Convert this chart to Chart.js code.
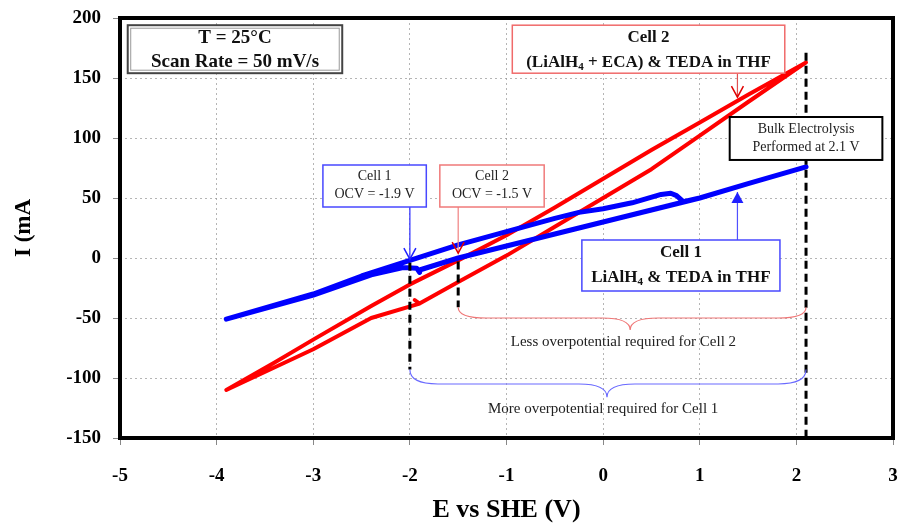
<!DOCTYPE html>
<html>
<head>
<meta charset="utf-8">
<script src="https://cdn.jsdelivr.net/npm/chart.js@4.4.1/dist/chart.umd.min.js"></script>
<style>
  html, body { margin: 0; padding: 0; background: #fff; }
</style>
</head>
<body>
<canvas id="cv" width="898" height="526"></canvas>
<script>
// Cell 1 (LiAlH4 & TEDA in THF) - values in scan order, E (V) / I (mA)
const cell1V = [-1.90, -1.93, -2.07, -2.40, -3.00, -3.90, -3.00, -2.50, -2.00, -1.50, -1.00, -0.50, -0.25, 0.00, 0.30, 0.60, 0.70, 0.76, 0.83, 1.00, 1.50, 2.10, 1.50, 1.00, 0.50, 0.00, -0.50, -1.00, -1.50, -1.90];
const cell1I = [-12, -8.5, -8, -14, -31, -51, -30, -15, -2, 11, 22, 33, 38, 41, 46, 53, 54, 52, 47, 50, 62, 76, 62, 50, 40, 30, 20, 10, 0, -10];

// Cell 2 ((LiAlH4 + ECA) & TEDA in THF)
const cell2V = [-1.95, -1.90, -2.40, -3.00, -3.90, -3.40, -3.00, -2.40, -2.00, -1.50, -1.00, -0.50, 0.00, 0.50, 1.00, 1.50, 2.10, 1.50, 1.00, 0.50, 0.00, -0.50, -1.00, -1.50, -1.90];
const cell2I = [-35, -38, -50, -76, -110, -87, -68, -40, -22, -2, 19, 42, 66, 90, 113, 136, 163, 130, 102, 74, 50, 26, 2, -20, -38];

const xTicks = [-5, -4, -3, -2, -1, 0, 1, 2, 3];
const yTicks = [-150, -100, -50, 0, 50, 100, 150, 200];

const SERIF = '"Liberation Serif", "Times New Roman", serif';

function toPoints(xs, ys) {
    return xs.map((x, i) => ({ x: x, y: ys[i] }));
}

// text with optional subscript parts: [['LiAlH'], ['4', true], [' & TEDA']]
function richText(ctx, parts, cx, cy, size, weight) {
    const main = `${weight} ${size}px ${SERIF}`;
    const sub = `${weight} ${Math.round(size * 0.62)}px ${SERIF}`;
    let total = 0;
    parts.forEach(p => {
        ctx.font = p[1] ? sub : main;
        total += ctx.measureText(p[0]).width;
    });
    let x = cx - total / 2;
    ctx.textAlign = 'left';
    ctx.textBaseline = 'middle';
    parts.forEach(p => {
        ctx.font = p[1] ? sub : main;
        ctx.fillText(p[0], x, p[1] ? cy + size * 0.28 : cy);
        x += ctx.measureText(p[0]).width;
    });
}

function box(ctx, x0, y0, x1, y1, color, width) {
    ctx.fillStyle = '#fff';
    ctx.fillRect(x0, y0, x1 - x0, y1 - y0);
    ctx.strokeStyle = color;
    ctx.lineWidth = width;
    ctx.strokeRect(x0, y0, x1 - x0, y1 - y0);
}

function arrow(ctx, x, yFrom, yTo, lineColor, headColor, filled) {
    ctx.strokeStyle = lineColor;
    ctx.lineWidth = 1.2;
    ctx.beginPath();
    ctx.moveTo(x, yFrom);
    ctx.lineTo(x, yTo);
    ctx.stroke();
    const dir = yTo > yFrom ? 1 : -1;
    ctx.strokeStyle = headColor;
    ctx.fillStyle = headColor;
    ctx.beginPath();
    ctx.moveTo(x - 6, yTo - dir * 11);
    ctx.lineTo(x, yTo);
    ctx.lineTo(x + 6, yTo - dir * 11);
    if (filled) { ctx.closePath(); ctx.fill(); } else { ctx.lineWidth = 1.5; ctx.stroke(); }
}

// curly brace hanging under a span
function brace(ctx, x0, x1, xm, yEnd, yMid, yTip, color) {
    const r = 14;
    ctx.strokeStyle = color;
    ctx.lineWidth = 1.2;
    ctx.beginPath();
    ctx.moveTo(x0, yEnd);
    ctx.quadraticCurveTo(x0, yMid, x0 + r * 2, yMid);
    ctx.lineTo(xm - r * 2, yMid);
    ctx.quadraticCurveTo(xm, yMid, xm, yTip);
    ctx.quadraticCurveTo(xm, yMid, xm + r * 2, yMid);
    ctx.lineTo(x1 - r * 2, yMid);
    ctx.quadraticCurveTo(x1, yMid, x1, yEnd);
    ctx.stroke();
}

function dashed(ctx, x, y0, y1) {
    ctx.save();
    ctx.strokeStyle = '#000';
    ctx.lineWidth = 3;
    ctx.setLineDash([8, 5]);
    ctx.beginPath();
    ctx.moveTo(x, y0);
    ctx.lineTo(x, y1);
    ctx.stroke();
    ctx.restore();
}

// drop the label overflow margins so the plot box sits where the original does
function noMargins(s) {
    s.paddingLeft = 0;
    s.paddingRight = 0;
    s.paddingTop = 0;
    s.paddingBottom = 0;
}

const notes = {
    id: 'notes',
    afterDatasetsDraw(chart) {
        const ctx = chart.ctx;
        const sx = chart.scales.x, sy = chart.scales.y;
        const X = v => sx.getPixelForValue(v);
        const Y = v => sy.getPixelForValue(v);
        ctx.save();

        // dashed markers
        dashed(ctx, X(2.1), Y(171), Y(-150));
        dashed(ctx, X(-2.0), Y(-4), Y(-93));
        dashed(ctx, X(-1.5), Y(-3), Y(-41));

        // braces
        brace(ctx, X(-1.5), X(2.1), X(0.28), Y(-41), Y(-50), Y(-60), '#f07878');
        brace(ctx, X(-2.0), X(2.1), X(0.04), Y(-93), Y(-105), Y(-116), '#6a6aff');
        ctx.fillStyle = '#222';
        richText(ctx, [['Less overpotential required for Cell 2']], X(0.21), Y(-70), 15, 'normal');
        richText(ctx, [['More overpotential required for Cell 1']], X(0.0), Y(-126), 15, 'normal');

        // T / scan rate box (double border)
        box(ctx, X(-4.92), Y(194), X(-2.70), Y(154), '#444', 2);
        ctx.strokeStyle = '#999';
        ctx.lineWidth = 1;
        ctx.strokeRect(X(-4.92) + 3, Y(194) + 3, X(-2.70) - X(-4.92) - 6, Y(154) - Y(194) - 6);
        ctx.fillStyle = '#111';
        richText(ctx, [['T = 25°C']], X(-3.81), Y(183), 19, 'bold');
        richText(ctx, [['Scan Rate = 50 mV/s']], X(-3.81), Y(163), 19, 'bold');

        // Cell 2 label + arrow
        arrow(ctx, X(1.39), Y(154), Y(134), '#e05050', '#e00000', false);
        box(ctx, X(-0.94), Y(194), X(1.88), Y(154), '#f06a6a', 1.5);
        ctx.fillStyle = '#111';
        richText(ctx, [['Cell 2']], X(0.47), Y(184), 17, 'bold');
        richText(ctx, [['(LiAlH'], ['4', true], [' + ECA) & TEDA in THF']], X(0.47), Y(163), 17, 'bold');

        // bulk electrolysis box
        box(ctx, X(1.31), Y(117.5), X(2.89), Y(81.7), '#000', 2);
        ctx.fillStyle = '#222';
        richText(ctx, [['Bulk Electrolysis']], X(2.10), Y(107), 14, 'normal');
        richText(ctx, [['Performed at 2.1 V']], X(2.10), Y(92), 14, 'normal');

        // OCV boxes
        arrow(ctx, X(-2.0), Y(42.5), Y(-1), '#2b2bff', '#2020ff', false);
        box(ctx, X(-2.90), Y(77.5), X(-1.83), Y(42.5), '#4848ff', 1.5);
        arrow(ctx, X(-1.5), Y(42.5), Y(4), '#f08080', '#e00000', false);
        box(ctx, X(-1.69), Y(77.5), X(-0.61), Y(42.5), '#f07a7a', 1.5);
        ctx.fillStyle = '#222';
        richText(ctx, [['Cell 1']], X(-2.365), Y(68), 14, 'normal');
        richText(ctx, [['OCV = -1.9 V']], X(-2.365), Y(53), 14, 'normal');
        richText(ctx, [['Cell 2']], X(-1.15), Y(68), 14, 'normal');
        richText(ctx, [['OCV = -1.5 V']], X(-1.15), Y(53), 14, 'normal');

        // Cell 1 label + arrow
        arrow(ctx, X(1.39), Y(15), Y(55), '#5050ff', '#2020ff', true);
        box(ctx, X(-0.22), Y(15), X(1.83), Y(-27.5), '#4848ff', 1.5);
        ctx.fillStyle = '#111';
        richText(ctx, [['Cell 1']], X(0.805), Y(4.5), 17, 'bold');
        richText(ctx, [['LiAlH'], ['4', true], [' & TEDA in THF']], X(0.805), Y(-16), 17, 'bold');

        ctx.restore();
    },
    afterDraw(chart) {
        // heavy plot frame
        const a = chart.chartArea, ctx = chart.ctx;
        ctx.save();
        ctx.strokeStyle = '#000';
        ctx.lineWidth = 4;
        ctx.strokeRect(a.left, a.top, a.right - a.left, a.bottom - a.top);
        ctx.restore();
    }
};

const gridOpts = {
    color: 'rgba(150,150,150,0.7)',
    lineWidth: 1,
    tickLength: 7,
    tickColor: '#888',
    tickBorderDash: []
};

new Chart(document.getElementById('cv').getContext('2d'), {
    type: 'scatter',
    data: {
        datasets: [
            {
                label: 'Cell 1',
                data: toPoints(cell1V, cell1I),
                showLine: true,
                borderColor: '#0000ff',
                borderWidth: 5,
                pointRadius: 0,
                borderJoinStyle: 'round',
                borderCapStyle: 'round',
                tension: 0
            },
            {
                label: 'Cell 2',
                data: toPoints(cell2V, cell2I),
                showLine: true,
                borderColor: '#ff0000',
                borderWidth: 4,
                pointRadius: 0,
                borderJoinStyle: 'round',
                borderCapStyle: 'round',
                tension: 0
            }
        ]
    },
    options: {
        responsive: false,
        animation: false,
        devicePixelRatio: 1,
        layout: { padding: { top: 18, right: 5, left: 0, bottom: 0 } },
        plugins: {
            legend: { display: false },
            tooltip: { enabled: false }
        },
        scales: {
            x: {
                type: 'linear',
                min: -5,
                max: 3,
                afterFit: s => { s.height = 88; noMargins(s); },
                afterBuildTicks: s => { s.ticks = xTicks.map(v => ({ value: v })); },
                ticks: { color: '#000', padding: 20, maxRotation: 0, font: { family: SERIF, size: 19, weight: 'bold' } },
                grid: gridOpts,
                border: { display: false, dash: [2, 3] },
                title: { display: true, text: 'E vs SHE (V)', color: '#000', padding: { top: 0, bottom: 0 }, font: { family: SERIF, size: 26, weight: 'bold' } }
            },
            y: {
                type: 'linear',
                min: -150,
                max: 200,
                afterFit: s => { s.width = 120; noMargins(s); },
                afterBuildTicks: s => { s.ticks = yTicks.map(v => ({ value: v })); },
                ticks: { color: '#000', padding: 12, font: { family: SERIF, size: 19, weight: 'bold' } },
                grid: gridOpts,
                border: { display: false, dash: [2, 3] },
                title: { display: true, text: 'I (mA', color: '#000', padding: { top: 10, bottom: 0 }, font: { family: SERIF, size: 23, weight: 'bold' } }
            }
        }
    },
    plugins: [notes]
});
</script>
</body>
</html>
